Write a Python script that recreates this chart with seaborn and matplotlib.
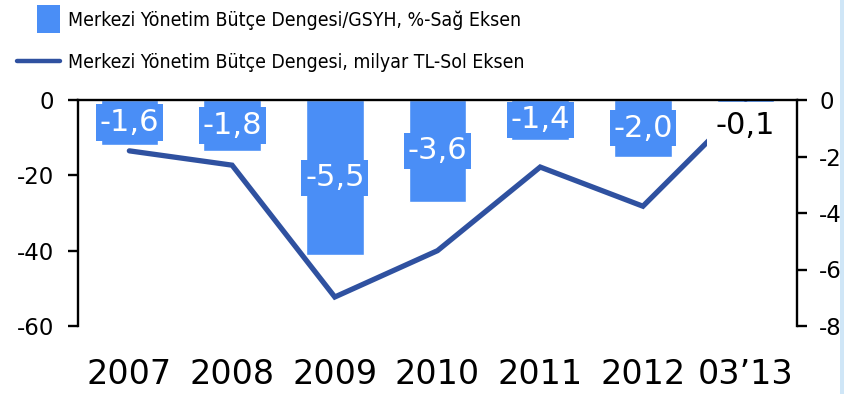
import matplotlib
matplotlib.use("Agg")
import matplotlib.pyplot as plt
from matplotlib import font_manager as fm
from matplotlib.textpath import TextToPath
from matplotlib.patches import Rectangle
from matplotlib.lines import Line2D
import numpy as np
import pandas as pd
import seaborn as sns

# Data
periods = ["2007", "2008", "2009", "2010", "2011", "2012", "03\u201913"]
balance_bn_tl = [-13.5, -17.3, -52.3, -40.0, -17.8, -28.2, -1.0]   # left axis
balance_gdp = [-1.6, -1.8, -5.5, -3.6, -1.4, -2.0, -0.1]           # right axis
gdp_labels = ["-1,6", "-1,8", "-5,5", "-3,6", "-1,4", "-2,0", "-0,1"]
left_ticks = [0, -20, -40, -60]
right_ticks = [0, -2, -4, -6, -8]
legend_labels = ["Merkezi Yönetim Bütçe Dengesi/GSYH, %-Sağ Eksen",
                 "Merkezi Yönetim Bütçe Dengesi, milyar TL-Sol Eksen"]

bar_color = "#4a8ef6"
line_color = "#2f51a0"

sns.set_theme(style="white")
plt.rcParams["font.family"] = ["DejaVu Sans"]
plt.rcParams["axes.unicode_minus"] = False

LEGEND_WIDTH_PX = 452     # width of the first legend entry


def legend_font():
    """Regular condensed sans face for the legend, sized to a fixed width."""
    prefs = ["liberation sans narrow", "dejavu sans", "noto sans",
             "roboto", "open sans"]
    found = []
    for f in fm.fontManager.ttflist:
        name = f.name.lower()
        stretch = str(f.stretch).lower()
        is_narrow = ("narrow" in name or "condensed" in name
                     or stretch in ("condensed", "semi-condensed"))
        if not is_narrow or f.style != "normal":
            continue
        if str(f.weight) not in ("400", "normal", "regular"):
            continue
        if "bold" in f.fname.lower() or "light" in f.fname.lower():
            continue
        rank = next((i for i, p in enumerate(prefs) if name.startswith(p)), None)
        if rank is None:
            continue
        found.append((rank, f.fname))
    if found:
        found.sort()
        prop = fm.FontProperties(fname=found[0][1], size=17)
    else:
        prop = fm.FontProperties(family="DejaVu Sans", size=17)
    w, _, _ = TextToPath().get_text_width_height_descent(legend_labels[0], prop,
                                                         ismath=False)
    prop.set_size(17 * (LEGEND_WIDTH_PX * 72 / 100) / w)
    return prop


W, H = 844, 394
fig = plt.figure(figsize=(W / 100, H / 100), dpi=100)
ax1 = fig.add_axes([78 / W, 1 - 326 / H, (797 - 78) / W, (326 - 100) / H])
ax2 = ax1.twinx()

df = pd.DataFrame({"period": periods, "pos": np.arange(len(periods)),
                   "bn": balance_bn_tl, "gdp": balance_gdp})

# Bars: budget balance / GDP on the right axis
sns.barplot(data=df, x="pos", y="gdp", ax=ax2, color=bar_color,
            saturation=1, width=0.56, native_scale=True)

# Line: budget balance in billion TL on the left axis
sns.lineplot(data=df, x="pos", y="bn", ax=ax1, color=line_color,
             linewidth=3.8, solid_joinstyle="miter")

ax1.set_zorder(ax2.get_zorder() + 1)
ax1.patch.set_visible(False)

ax1.set_xlim(-0.5, len(periods) - 0.5)
ax1.set_ylim(-60, 0)
ax2.set_ylim(-8, 0)
ax1.set_yticks(left_ticks)
ax2.set_yticks(right_ticks)
ax1.set_xticks(np.arange(len(periods)))
ax1.set_xticklabels(periods)
for ax in (ax1, ax2):
    ax.set_xlabel("")
    ax.set_ylabel("")
    for s in ax.spines.values():
        s.set_visible(False)
ax1.spines["left"].set_visible(True)
ax1.spines["top"].set_visible(True)
ax2.spines["right"].set_visible(True)
for s in (ax1.spines["left"], ax1.spines["top"], ax2.spines["right"]):
    s.set_color("black")
    s.set_linewidth(1.7)

ax1.tick_params(axis="y", direction="out", length=7, width=1.7, color="black",
                labelsize=16.5, pad=10, left=True, labelcolor="black")
ax2.tick_params(axis="y", direction="out", length=7, width=1.7, color="black",
                labelsize=16.5, pad=9, right=True, labelcolor="black")
ax1.tick_params(axis="x", length=0, labelsize=24, pad=23, labelcolor="black")

# Value labels centred on each bar; the tiny last bar gets a white label below
for i, (v, lab) in enumerate(zip(balance_gdp, gdp_labels)):
    small = abs(v) < 0.5
    y = v / 2 if not small else -0.9
    ax1.text(i, y, lab, transform=ax2.transData, ha="center", va="center",
             fontsize=22, color="black" if small else "white", zorder=10,
             bbox=dict(boxstyle="square,pad=%s" % (0.3 if small else 0.12),
                       fc="white" if small else bar_color, ec="none"))

# Legend
fig.patches.append(Rectangle((37 / W, 1 - 33 / H), 23 / W, 28 / H,
                             transform=fig.transFigure, fc=bar_color, ec="none"))
fig.lines.append(Line2D([17 / W, 60 / W], [1 - 61 / H, 1 - 61 / H],
                        transform=fig.transFigure, color=line_color, lw=3.2))
lp = legend_font()
fig.text(68 / W, 1 - 20 / H, legend_labels[0], va="center", ha="left",
         fontproperties=lp, color="black")
fig.text(68 / W, 1 - 62 / H, legend_labels[1], va="center", ha="left",
         fontproperties=lp, color="black")

# right edge frame line
fig.patches.append(Rectangle((840 / W, 0), 4 / W, 1, transform=fig.transFigure,
                             fc="#cfe6f7", ec="none"))

fig.savefig("out.png", dpi=100)
